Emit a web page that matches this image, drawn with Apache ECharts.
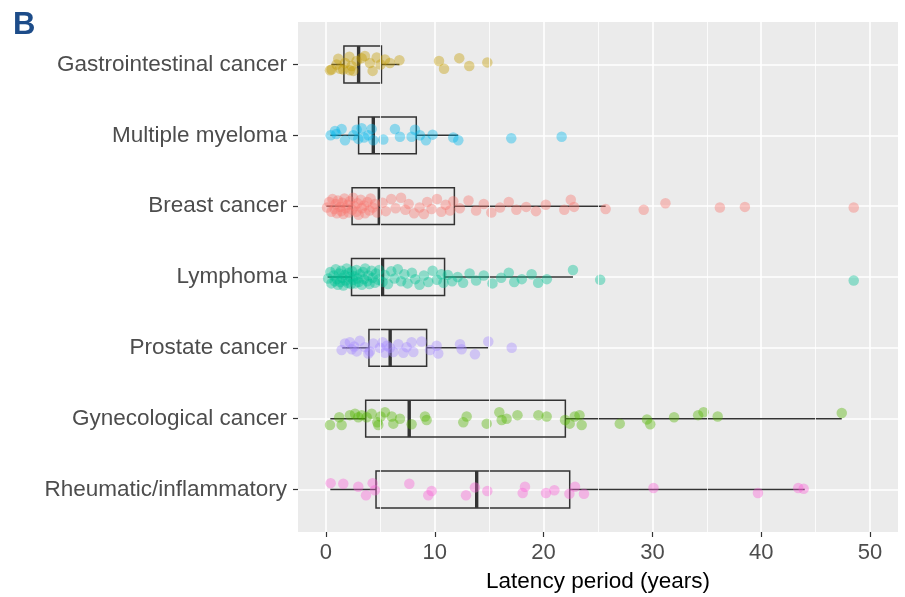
<!DOCTYPE html>
<html lang="en">
<head>
    <meta charset="UTF-8">
    <title>Latency period</title>
    <script src="https://cdn.jsdelivr.net/npm/echarts@6/dist/echarts.min.js"></script>
    <style>
        html, body { margin: 0; padding: 0; background: #fff; }
        #main { width: 905px; height: 597px; }
    </style>
</head>
<body>
    <div id="main"></div>
    <script type="text/javascript">
        // categories top to bottom
        const categories = ['Gastrointestinal cancer', 'Multiple myeloma', 'Breast cancer', 'Lymphoma',
            'Prostate cancer', 'Gynecological cancer', 'Rheumatic/inflammatory'];
        const colors = ['#C49A00', '#00B6EB', '#F8766D', '#00C094', '#A58AFF', '#53B400', '#FB61D7'];

        const xTicks = [0, 10, 20, 30, 40, 50];
        const xMinor = [5, 15, 25, 35, 45];

        // box stats: [lower whisker, Q1, median, Q3, upper whisker]
        const boxStats = [
            [0.5, 1.65, 3.0, 5.1, 6.75],
            [0.4, 3.0, 4.35, 8.3, 12.15],
            [0.05, 2.4, 4.9, 11.8, 25.7],
            [0.15, 2.35, 5.2, 10.9, 22.7],
            [1.5, 3.95, 5.9, 9.25, 14.9],
            [0.4, 3.65, 7.65, 22.0, 47.4],
            [0.4, 4.6, 13.85, 22.4, 44.0]
        ];

        // points: [latency, vertical jitter]
        const gastroPts = [[0.37, 0.08], [0.52, 0.07], [0.98, 0], [1.13, -0.08], [1.29, 0.06], [1.59, 0.07],
            [1.75, -0.02], [2.15, -0.11], [2.2, 0.08], [2.36, 0.02], [2.51, 0.09], [2.82, -0.05],
            [3.28, -0.09], [3.58, -0.12], [4.04, -0.02], [4.29, 0.09], [4.66, -0.1], [5.02, 0],
            [5.42, -0.07], [5.88, -0.02], [6.75, -0.06], [10.39, -0.05], [10.85, 0.06], [12.25, -0.09],
            [13.17, 0.02], [14.83, -0.03]];
        const myelomaPts = [[0.43, 0], [0.83, -0.06], [0.95, -0.02], [1.44, -0.09], [1.75, 0.07], [2.51, 0],
            [2.82, -0.08], [2.97, 0.05], [3.28, -0.1], [3.5, 0.03], [3.89, 0], [4.2, -0.09], [4.35, 0.07],
            [5.27, 0.06], [6.34, -0.09], [6.8, 0.02], [7.87, 0.02], [8.18, -0.08], [8.64, 0], [9.19, 0.07],
            [9.8, -0.01], [11.7, 0.03], [12.16, 0.07], [17.03, 0.04], [21.66, 0.02]];
        const breastPts = [[0.1, 0.02], [0.3, -0.06], [0.5, 0.08], [0.6, -0.1], [0.8, 0.04], [0.9, -0.03],
            [1.0, 0.1], [1.1, -0.08], [1.3, 0.01], [1.4, 0.07], [1.5, -0.05], [1.6, 0.11], [1.7, -0.11],
            [1.8, 0.03], [2.0, -0.02], [2.1, 0.09], [2.2, -0.07], [2.4, 0.05], [2.5, -0.12], [2.6, 0.0],
            [2.8, 0.08], [2.9, -0.04], [3.0, 0.12], [3.2, -0.09], [3.3, 0.03], [3.5, -0.01], [3.6, 0.1],
            [3.8, -0.06], [4.0, 0.06], [4.1, -0.11], [4.3, 0.02], [4.5, -0.03], [4.7, 0.09],
            [5.2, -0.05], [5.5, 0.07], [6.0, -0.1], [6.4, 0.03], [6.9, -0.12], [7.3, 0.05], [7.6, -0.03],
            [8.1, 0.1], [8.6, 0.02], [9.0, 0.11], [9.3, -0.06], [9.7, 0.04], [10.2, -0.1], [10.6, 0.08],
            [11.0, -0.02], [11.4, 0.06], [11.7, -0.07],
            [12.3, 0.03], [13.1, -0.08], [13.8, 0.06], [14.5, -0.03], [15.2, 0.09], [16.0, 0.02],
            [16.8, -0.06], [17.5, 0.05], [18.4, 0.01], [19.3, 0.07], [20.2, -0.02], [21.9, 0.05],
            [22.5, -0.09], [22.8, 0.01], [25.7, 0.04],
            [29.2, 0.05], [31.2, -0.04], [36.2, 0.02], [38.5, 0.01], [48.5, 0.02]];
        const lymphomaPts = [[0.2, 0.02], [0.4, -0.07], [0.5, 0.09], [0.7, -0.02], [0.8, 0.06], [0.9, -0.11],
            [1.0, 0.03], [1.1, 0.11], [1.2, -0.05], [1.3, 0.07], [1.4, -0.09], [1.5, 0.01], [1.6, 0.12],
            [1.7, -0.03], [1.8, 0.05], [1.9, -0.12], [2.0, 0.08], [2.1, -0.06], [2.2, 0.0], [2.3, 0.1],
            [2.4, -0.08], [2.5, 0.04], [2.6, -0.01], [2.7, 0.09], [2.8, -0.1], [2.9, 0.02], [3.0, 0.07],
            [3.1, -0.04], [3.3, 0.11], [3.4, -0.07], [3.5, 0.03], [3.6, -0.12], [3.8, 0.06], [3.9, -0.02],
            [4.0, 0.1], [4.2, -0.09], [4.3, 0.01], [4.5, 0.08], [4.6, -0.05], [4.8, 0.04], [4.9, -0.1],
            [5.2, 0.07], [5.4, -0.03], [5.7, 0.1], [6.0, -0.08], [6.3, 0.02], [6.6, -0.11], [6.9, 0.06],
            [7.2, -0.04], [7.5, 0.09], [7.9, -0.06], [8.2, 0.03], [8.6, 0.11], [9.0, -0.02], [9.4, 0.07],
            [9.8, -0.09], [10.2, 0.04], [10.6, -0.04], [10.8, 0.08],
            [11.2, -0.03], [11.6, 0.06], [12.1, 0.0], [12.6, 0.08], [13.2, -0.05], [13.8, 0.05],
            [14.5, -0.02], [15.3, 0.09], [16.1, 0.01], [16.8, -0.06], [17.3, 0.07], [18.0, 0.03],
            [18.9, -0.04], [19.5, 0.08], [20.3, 0.03], [22.7, -0.1],
            [25.2, 0.04], [48.5, 0.05]];
        const prostatePts = [[1.44, 0.03], [1.75, -0.06], [2.2, -0.08], [2.36, 0.02], [2.6, -0.02],
            [2.82, 0.05], [3.12, -0.1], [3.58, -0.01], [3.9, 0.08], [4.04, 0.05], [4.35, -0.06],
            [4.96, 0], [5.21, -0.08], [5.42, 0.07], [5.6, -0.03], [5.88, 0], [6.19, 0.06], [6.65, -0.05],
            [7.11, 0.07], [7.41, -0.01], [7.87, -0.08], [8.03, 0.06], [8.79, -0.09], [9.56, 0.03],
            [10.17, -0.03], [10.32, 0.08], [12.32, -0.05], [12.47, 0.02], [13.69, 0.09], [14.92, -0.09],
            [17.07, 0]];
        const gynePts = [[0.37, 0.09], [1.22, -0.02], [1.44, 0.09], [2.2, -0.05], [2.67, -0.07], [2.97, -0.02],
            [3.28, -0.05], [3.74, -0.02], [4.2, -0.07], [4.72, 0.05], [4.81, 0.09], [5.02, -0.03],
            [5.42, -0.09], [6.04, -0.03], [6.19, 0.07], [6.8, 0], [7.87, 0.08], [9.1, -0.03], [9.25, 0.02],
            [12.62, 0.05], [12.93, -0.03], [14.77, 0.07], [15.93, -0.09], [16.15, 0.02], [16.6, 0],
            [17.6, -0.05], [19.52, -0.05], [20.28, -0.03], [21.97, 0.02], [22.4, 0.07], [22.86, -0.03],
            [23.3, -0.05], [23.5, 0.09], [27.0, 0.07], [29.5, 0.01], [29.8, 0.08], [31.99, -0.02],
            [34.2, -0.05], [34.7, -0.09], [36.0, -0.03], [47.4, -0.08]];
        const rheumPts = [[0.43, -0.09], [1.59, -0.08], [2.97, -0.04], [3.68, 0.08], [4.29, -0.09], [4.5, 0.01],
            [7.66, -0.08], [9.4, 0.08], [9.71, 0.02], [12.87, 0.08], [13.69, -0.03], [14.83, 0.02],
            [18.08, 0.05], [18.29, -0.04], [20.22, 0.05], [20.99, 0.01], [22.37, 0.06], [22.89, -0.04],
            [23.71, 0.06], [30.1, -0.02], [39.7, 0.05], [43.4, -0.02], [43.9, -0.01]];

        const pointSets = [gastroPts, myelomaPts, breastPts, lymphomaPts, prostatePts, gynePts, rheumPts];

        const catIdx = categories.map((c, i) => i + 1);
        const FONT = '"Liberation Sans", Arial, Helvetica, sans-serif';

        const chart = echarts.init(document.getElementById('main'));

        const scatterSeries = pointSets.map((pts, i) => ({
            type: 'scatter',
            name: categories[i],
            z: 3,
            symbolSize: 10.5,
            itemStyle: { color: colors[i], opacity: 0.4 },
            data: pts.map(p => [p[0], i + 1 + p[1]])
        }));

        const option = {
            backgroundColor: '#ffffff',
            animation: false,
            graphic: [{
                type: 'text',
                left: 13,
                top: 10,
                style: { text: 'B', font: 'bold 31px ' + FONT, fill: '#1d4c89' }
            }],
            grid: {
                left: 298, right: 7, top: 22, bottom: 65,
                outerBoundsMode: 'none',
                show: true, backgroundColor: '#EBEBEB', borderWidth: 0
            },
            xAxis: {
                type: 'value',
                min: -2.57, max: 52.57,
                name: 'Latency period (years)',
                nameLocation: 'middle',
                nameGap: 38,
                nameTextStyle: { color: '#000', fontSize: 22.5, fontFamily: FONT },
                axisLine: { show: false, onZero: false },
                axisTick: { show: true, length: 5, customValues: xTicks, lineStyle: { color: '#333', width: 1.2 } },
                axisLabel: { customValues: xTicks, margin: 10, color: '#4D4D4D', fontSize: 22, fontFamily: FONT },
                splitLine: { show: true, lineStyle: { color: '#fff', width: 1.6 } }
            },
            yAxis: {
                type: 'value',
                min: 0.4, max: 7.6,
                inverse: true,
                axisLine: { show: false, onZero: false },
                axisTick: { show: true, length: 5, customValues: catIdx, lineStyle: { color: '#333', width: 1.2 } },
                axisLabel: {
                    customValues: catIdx, margin: 11, color: '#4D4D4D', fontSize: 22.5, fontFamily: FONT,
                    padding: [3, 0, 0, 0],
                    formatter: v => categories[Math.round(v) - 1]
                },
                splitLine: { show: true, lineStyle: { color: '#fff', width: 1.6 } }
            },
            series: [{
                type: 'custom',
                z: 2,
                data: boxStats.map((s, i) => [i + 1].concat(s)),
                encode: { x: [1, 2, 3, 4, 5], y: 0 },
                renderItem: function (params, api) {
                    const y = api.value(0);
                    const lo = api.coord([api.value(1), y]);
                    const q1 = api.coord([api.value(2), y]);
                    const md = api.coord([api.value(3), y]);
                    const q3 = api.coord([api.value(4), y]);
                    const hi = api.coord([api.value(5), y]);
                    const h = Math.abs(api.size([0, 0.52])[1]);
                    const line = { stroke: '#333', lineWidth: 1.5, fill: null };
                    return {
                        type: 'group',
                        children: [
                            { type: 'line', shape: { x1: lo[0], y1: lo[1], x2: q1[0], y2: q1[1] }, style: line },
                            { type: 'line', shape: { x1: q3[0], y1: q3[1], x2: hi[0], y2: hi[1] }, style: line },
                            { type: 'rect', shape: { x: q1[0], y: q1[1] - h / 2, width: q3[0] - q1[0], height: h }, style: line },
                            { type: 'line', shape: { x1: md[0], y1: md[1] - h / 2, x2: md[0], y2: md[1] + h / 2 },
                              style: { stroke: '#333', lineWidth: 3.4 } }
                        ]
                    };
                }
            }, {
                type: 'line',
                z: 1,
                data: [],
                markLine: {
                    silent: true,
                    symbol: 'none',
                    label: { show: false },
                    lineStyle: { color: '#fff', width: 0.8, type: 'solid' },
                    data: xMinor.map(v => ({ xAxis: v }))
                }
            }].concat(scatterSeries)
        };
        chart.setOption(option);
    </script>
</body>
</html>
